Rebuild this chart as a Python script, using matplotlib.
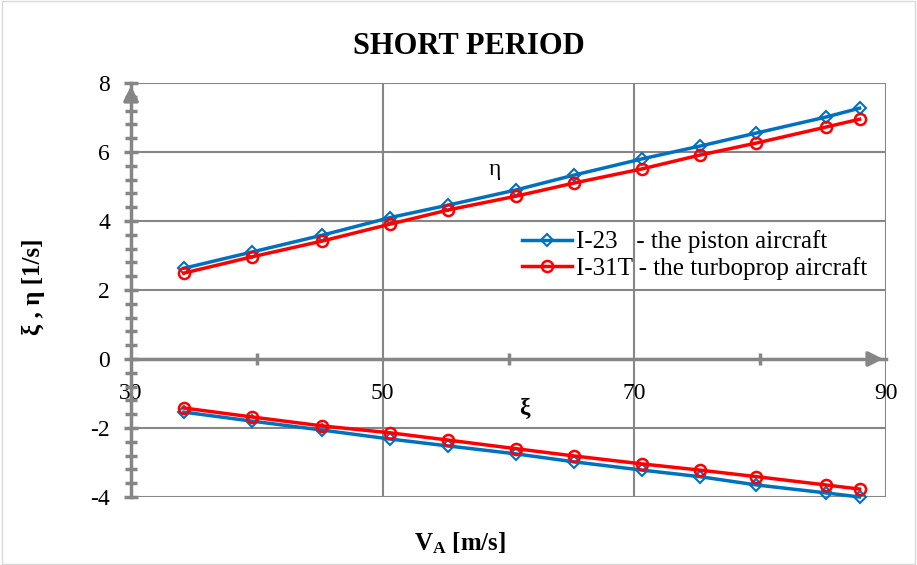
import matplotlib
matplotlib.use('Agg')
import matplotlib.pyplot as plt
from matplotlib.patches import Rectangle
import numpy as np

plt.rcParams['font.family'] = ['Liberation Serif', 'DejaVu Serif']
plt.rcParams['mathtext.fontset'] = 'custom'
plt.rcParams['mathtext.rm'] = 'Liberation Serif'
plt.rcParams['mathtext.bf'] = 'Liberation Serif:bold'
plt.rcParams['axes.unicode_minus'] = False

# speed [m/s]
va = [34.2, 39.6, 45.2, 50.6, 55.2, 60.6, 65.2, 70.6, 75.2, 79.7, 85.2, 87.9]

# eta (imag part) and xi (real part) for both aircraft
eta_i23 = [2.63, 3.10, 3.59, 4.10, 4.46, 4.90, 5.33, 5.80, 6.17, 6.55, 7.01, 7.27]
xi_i23 = [-1.54, -1.80, -2.06, -2.32, -2.52, -2.75, -2.98, -3.22, -3.41, -3.65, -3.88, -4.0]
eta_i31t = [2.49, 2.96, 3.42, 3.91, 4.32, 4.72, 5.10, 5.51, 5.91, 6.26, 6.72, 6.95]
xi_i31t = [-1.42, -1.68, -1.94, -2.14, -2.35, -2.60, -2.81, -3.04, -3.22, -3.41, -3.65, -3.77]

blue = '#0070C0'
red = '#FF0000'
grey = '#868686'

fig = plt.figure(figsize=(9.17, 5.65), dpi=100)
ax = fig.add_axes([131/917, 1-497/565, (886-131)/917, (497-83)/565])

ax.plot(va, eta_i23, color=blue, lw=2.5, marker='D', ms=6, mfc='none', mew=1.5,
        label='I-23   - the piston aircraft', clip_on=False, zorder=4)
ax.plot(va, eta_i31t, color=red, lw=2.5, marker='o', ms=8, mfc='none', mew=1.8,
        label='I-31T - the turboprop aircraft', clip_on=False, zorder=5)
ax.plot(va, xi_i23, color=blue, lw=2.5, marker='D', ms=6, mfc='none', mew=1.5,
        clip_on=False, zorder=4)
ax.plot(va, xi_i31t, color=red, lw=2.5, marker='o', ms=8, mfc='none', mew=1.8,
        clip_on=False, zorder=5)

ax.set_xlim(30, 90)
ax.set_ylim(-4, 8)
ax.set_xticks([30, 50, 70, 90])
ax.set_xticks([40, 60, 80], minor=True)
ax.set_yticks(np.arange(-4, 9, 2))
ax.set_yticks(np.arange(-4, 8.01, 0.4), minor=True)
ax.grid(True, which='major', color=grey, lw=1.5, zorder=0)

for s in ['top', 'right']:
    ax.spines[s].set_visible(False)
ax.spines['bottom'].set_position(('data', 0))
ax.spines['bottom'].set_color(grey)
ax.spines['bottom'].set_linewidth(2.5)
ax.spines['left'].set_color(grey)
ax.spines['left'].set_linewidth(2.5)

ax.tick_params(axis='x', which='major', length=0, pad=17, labelsize=17)
ax.tick_params(axis='x', which='minor', direction='inout', length=9, width=2.5, color=grey)
ax.tick_params(axis='y', which='major', direction='inout', length=10, width=2.5,
               color=grey, pad=10, labelsize=17)
ax.tick_params(axis='y', which='minor', direction='inout', length=8, width=2.5, color=grey)

# arrow heads on the axes
ax.annotate('', xy=(90, 0), xytext=(88.5, 0),
            arrowprops=dict(arrowstyle='-|>', color=grey, lw=2.5, mutation_scale=22),
            annotation_clip=False)
ax.annotate('', xy=(30, 8), xytext=(30, 7.6),
            arrowprops=dict(arrowstyle='-|>', color=grey, lw=2.5, mutation_scale=22),
            annotation_clip=False)

ax.text(58.9, 5.48, 'η', fontsize=17, ha='center', va='center')
ax.text(61.3, -1.42, 'ξ', fontsize=17, fontweight='bold', ha='center', va='center')

fig.text(469/917, 1-46/565, 'SHORT PERIOD', fontsize=22, fontweight='bold',
         ha='center', va='center')
fig.text(33/917, 1-287/565, 'ξ , η [1/s]', fontsize=18, fontweight='bold',
         rotation=90, ha='center', va='center')
fig.text(460/917, 1-543/565, r'$\mathbf{V_A}$ [m/s]', fontsize=18, fontweight='bold',
         ha='center', va='center')

ax.legend(loc='upper left', bbox_to_anchor=(509/917, 1-218/565),
          bbox_transform=fig.transFigure, frameon=False, fontsize=18,
          handlelength=2.0, handletextpad=0.2, labelspacing=0.15, borderpad=0)

fig.patches.append(Rectangle((0.002, 0.002), 0.996, 0.996, transform=fig.transFigure,
                             fill=False, edgecolor='#d9d9d9', lw=1))

fig.savefig('out.png', dpi=100)
